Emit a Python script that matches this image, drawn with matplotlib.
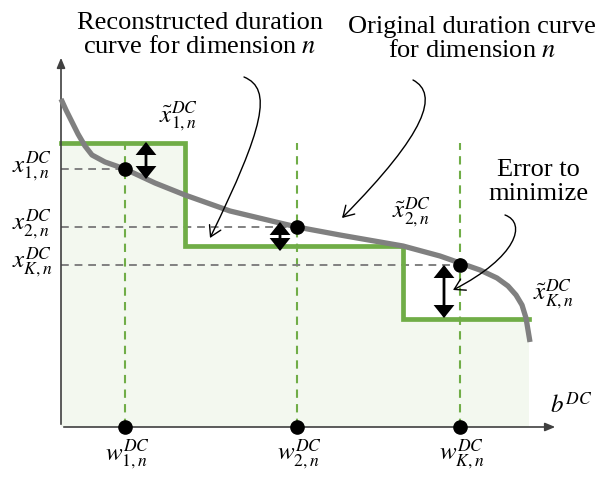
import numpy as np
import matplotlib
matplotlib.use("Agg")
import matplotlib.pyplot as plt
from matplotlib.patches import FancyArrowPatch
from matplotlib.path import Path

plt.rcParams['font.family'] = ['Liberation Serif', 'DejaVu Serif']
plt.rcParams['mathtext.fontset'] = 'stix'

# original duration curve (b = duration, v = value), arbitrary units
curve_b = [0, 5, 11, 17, 24, 31, 44, 64, 94, 124, 169, 219, 236, 279, 342,
           379, 399, 419, 436, 447, 455, 461, 465, 467, 469]
curve_v = [328, 317, 305, 293, 281, 272, 265, 258, 244, 232, 216, 204, 200, 192, 181,
           171, 164, 157, 149, 141, 132, 122, 109, 97, 85]

# reconstructed (step) curve
step_edges = [0, 124, 342, 468]
step_levels = [284, 181, 108]

# sampled points w_k and their values x_k
w_pos = [64, 236, 399]
x_val = [258, 200, 162]
w_labels = [r'$w^{DC}_{1,n}$', r'$w^{DC}_{2,n}$', r'$w^{DC}_{K,n}$']
x_labels = [r'$x^{DC}_{1,n}$', r'$x^{DC}_{2,n}$', r'$x^{DC}_{K,n}$']
xt_labels = [r'$\tilde{x}^{DC}_{1,n}$', r'$\tilde{x}^{DC}_{2,n}$', r'$\tilde{x}^{DC}_{K,n}$']

# error arrows (one end on curve, other on step)
err_b = [85, 219, 383]
err_top = [248, 205, 162]
err_bot = [285, 176, 109]

GREEN = '#70ad47'
GRAY = '#808080'
FILL = '#f3f8ef'

fig = plt.figure(figsize=(5.95, 4.78), dpi=100)
ax = fig.add_axes([0, 0, 1, 1])
ax.set_xlim(-61, 534)
ax.set_ylim(-51, 427)
ax.axis('off')

# fill under step curve
sx = np.repeat(step_edges, 2)[1:-1]
sy = np.repeat(step_levels, 2)
ax.fill_between(sx, 0, sy, color=FILL, lw=0, zorder=0)

# vertical green dashed lines at w_k
for w in w_pos:
    ax.plot([w, w], [0, step_levels[0]], color=GREEN, lw=1.5, ls=(0, (4, 3)), zorder=1)

# gray dashed horizontals to x_k
for w, x in zip(w_pos, x_val):
    ax.plot([0, w], [x, x], color=GRAY, lw=1.4, ls=(0, (4, 3)), zorder=1)

# axes
ax.annotate('', xy=(497, 0), xytext=(0, 0),
            arrowprops=dict(arrowstyle='-|>,head_length=0.6,head_width=0.25', color='#404040', lw=1.2))
ax.annotate('', xy=(0, 372), xytext=(0, 0),
            arrowprops=dict(arrowstyle='-|>,head_length=0.6,head_width=0.25', color='#404040', lw=1.2))

# curves
ax.plot(curve_b, curve_v, color=GRAY, lw=3.8, solid_capstyle='butt', solid_joinstyle='round', zorder=3)
ax.plot(sx, sy, color=GREEN, lw=3.4, solid_joinstyle='miter', zorder=2)

# points
ax.plot(w_pos, x_val, 'o', color='black', ms=9.5, zorder=5)
ax.plot(w_pos, [0] * len(w_pos), 'o', color='black', ms=9.5, zorder=5, clip_on=False)

# error arrows
for b, top, bot in zip(err_b, err_top, err_bot):
    a = FancyArrowPatch((b, top), (b, bot), arrowstyle='<|-|>,head_length=0.45,head_width=0.36',
                        mutation_scale=15, color='black', lw=2.0, shrinkA=0, shrinkB=0,
                        joinstyle='miter', zorder=6)
    ax.add_patch(a)

fs_math = 18
for w, lab in zip(w_pos, w_labels):
    ax.text(w + 2, -28, lab, ha='center', va='center', fontsize=fs_math)
for x, lab in zip(x_val, x_labels):
    ax.text(-29, x + 2, lab, ha='center', va='center', fontsize=fs_math)
for (b, v), lab in zip([(117, 310), (350, 214), (493, 132)], xt_labels):
    ax.text(b, v, lab, ha='center', va='center', fontsize=fs_math)
ax.text(510, 22, r'$b^{DC}$', ha='center', va='center', fontsize=fs_math)

fs = 19
ax.text(139, 392, 'Reconstructed duration\ncurve for dimension $n$', ha='center', va='center',
        fontsize=fs, linespacing=1.12)
ax.text(411, 388, 'Original duration curve\nfor dimension $n$', ha='center', va='center',
        fontsize=fs, linespacing=1.12)
ax.text(477, 245, 'Error to\nminimize', ha='center', va='center', fontsize=fs, linespacing=1.12)


def curved_arrow(pts):
    path = Path(pts, [Path.MOVETO, Path.CURVE4, Path.CURVE4, Path.CURVE4])
    ax.add_patch(FancyArrowPatch(path=path, arrowstyle='->,head_length=0.5,head_width=0.3',
                                 mutation_scale=15, color='black', lw=1.0, zorder=7))


curved_arrow([(183, 350), (212, 338), (203, 300), (149, 189)])
curved_arrow([(352, 347), (378, 333), (366, 295), (281, 209)])
curved_arrow([(444, 212), (466, 204), (456, 170), (392, 137)])

fig.savefig('out.png', dpi=100)
